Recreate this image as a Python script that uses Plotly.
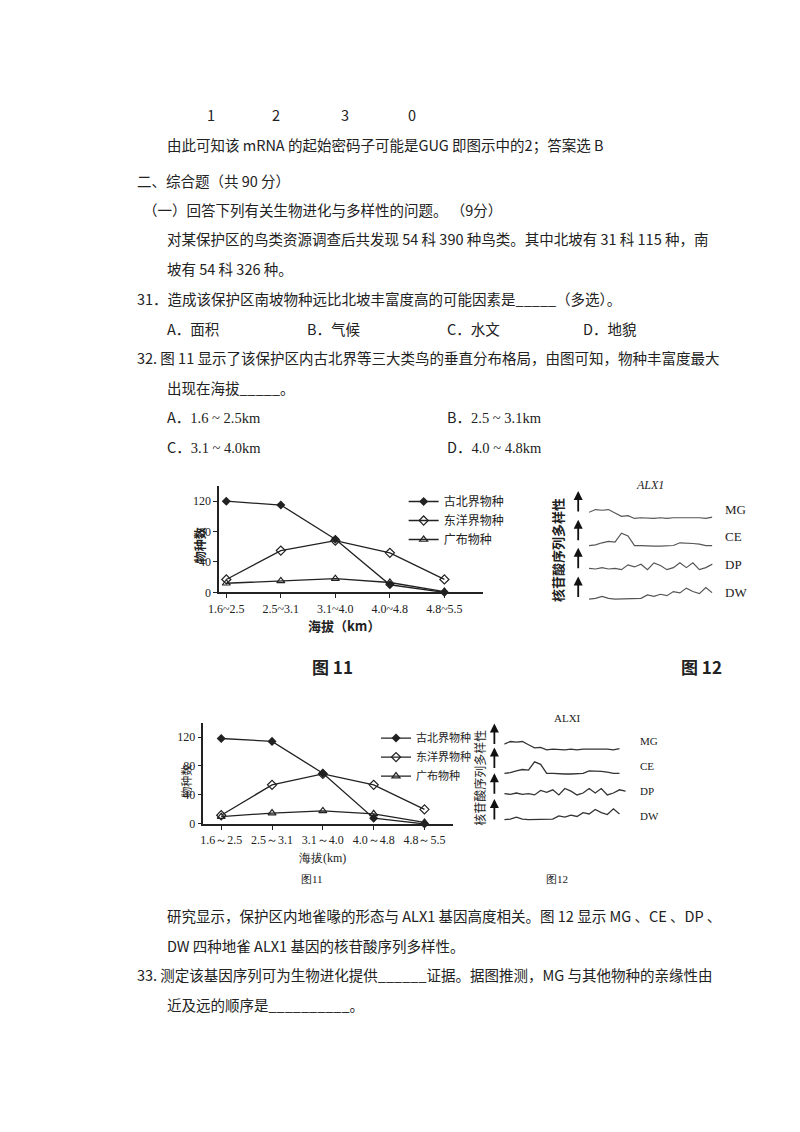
import plotly.graph_objects as go

W, H = 800, 1132

# ---- data ----
altitudes = ["1.6~2.5", "2.5~3.1", "3.1~4.0", "4.0~4.8", "4.8~5.5"]
altitudes_b = ["1.6～2.5", "2.5～3.1", "3.1～4.0", "4.0～4.8", "4.8～5.5"]
series_names = ["古北界物种", "东洋界物种", "广布物种"]
palearctic = [120, 115, 70, 10, 0]
oriental = [17, 55, 68, 52, 17]
widespread = [12, 15, 18, 13, 1]
palearctic_b = [118, 114, 70, 8, 0]
oriental_b = [12, 54, 69, 54, 20]
widespread_b = [10, 15, 18, 14, 2]
y_ticks = [0, 40, 80, 120]

species12 = ["MG", "CE", "DP", "DW"]
mg = [0.6, 0.8, 0.75, 0.8, 0.55, 0.3, 0.35, 0.15, 0.2, 0.15, 0.15, 0.2, 0.15, 0.2, 0.2, 0.25, 0.2, 0.2, 0.15, 0.25]
ce = [0.1, 0.15, 0.3, 0.4, 0.35, 1.0, 0.8, 0.1, 0.1, 0.05, 0.05, 0.05, 0.1, 0.1, 0.3, 0.3, 0.25, 0.2, 0.1, 0.1]
dp = [0.3, 0.25, 0.35, 0.25, 0.3, 0.2, 0.55, 0.4, 0.6, 0.2, 0.7, 0.5, 0.2, 0.35, 0.7, 0.35, 0.7, 0.2, 0.35, 0.6, 0.5, 0.3]
dw = [0.05, 0.1, 0.25, 0.1, 0.05, 0.05, 0.1, 0.05, 0.1, 0.35, 0.25, 0.4, 0.3, 0.6, 0.5, 0.85, 0.6, 0.45, 0.9, 0.5]
seqs = [mg, ce, dp, dw]


def px(x):
    return x / W


def py(y):
    return 1 - y / H


BODY = "Noto Sans CJK SC"
SERIF = "Liberation Serif"
INK = "#222"

fig = go.Figure()

markers = [dict(symbol="diamond", size=7, color=INK),
           dict(symbol="diamond-open", size=7, color=INK, line=dict(width=1.2)),
           dict(symbol="triangle-up-open", size=7, color=INK, line=dict(width=1.2))]

# Figure 11 (top, scanned version) and Figure 11 (bottom, redrawn)
for k, (vals, xa, ya, leg) in enumerate([
        ([palearctic, oriental, widespread], "x", "y", "legend"),
        ([palearctic_b, oriental_b, widespread_b], "x2", "y2", "legend2")]):
    for name, v, m in zip(series_names, vals, markers):
        fig.add_trace(go.Scatter(
            x=list(range(len(altitudes))), y=v, name=name, mode="lines+markers",
            marker=m, line=dict(color=INK, width=1.3), xaxis=xa, yaxis=ya,
            legend=leg, cliponaxis=False))

# Figure 12 sequence diversity traces
amp_top, amp_bot = 15, 14
base_top = [92, 63, 35, 5]
for name, s, b in zip(species12, seqs, base_top):
    fig.add_trace(go.Scatter(x=list(range(len(s))), y=[b + amp_top * v for v in s],
                             mode="lines", line=dict(color="#555", width=1.2),
                             xaxis="x3", yaxis="y3", showlegend=False))
base_bot = [80, 55, 30, 5]
for name, s, b in zip(species12, seqs, base_bot):
    fig.add_trace(go.Scatter(x=list(range(len(s))), y=[b + amp_bot * v for v in s],
                             mode="lines", line=dict(color="#333", width=1.3),
                             xaxis="x4", yaxis="y4", showlegend=False))

axis_common = dict(showgrid=False, zeroline=False, showline=True, linecolor=INK,
                   linewidth=1.5, ticks="outside", tickcolor=INK, ticklen=4,
                   tickfont=dict(family=SERIF, size=12, color=INK))
fig.update_layout(
    width=W, height=H, margin=dict(l=0, r=0, t=0, b=0),
    paper_bgcolor="white", plot_bgcolor="white",
    xaxis=dict(axis_common, domain=[px(203), px(470)], range=[-0.13, 4.7],
               tickvals=list(range(5)), ticktext=altitudes, anchor="y"),
    yaxis=dict(axis_common, domain=[py(588), py(481)], range=[0, 140],
               tickvals=y_ticks, anchor="x"),
    xaxis2=dict(axis_common, domain=[px(187), px(440)], range=[-0.35, 4.56],
                tickvals=list(range(5)), ticktext=altitudes_b, anchor="y2"),
    yaxis2=dict(axis_common, domain=[py(821), py(719)], range=[0, 140],
                tickvals=y_ticks, anchor="x2"),
    xaxis3=dict(domain=[px(578), px(703)], range=[0, 19], visible=False, anchor="y3"),
    yaxis3=dict(domain=[py(600), py(490)], range=[0, 120], visible=False, anchor="x3"),
    xaxis4=dict(domain=[px(492), px(615)], range=[0, 20], visible=False, anchor="y4"),
    yaxis4=dict(domain=[py(822), py(730)], range=[0, 100], visible=False, anchor="x4"),
    legend=dict(x=px(390), y=py(482), xanchor="left", yanchor="top",
                font=dict(family=BODY, size=12, color=INK), tracegroupgap=0,
                bgcolor="rgba(0,0,0,0)", itemwidth=30),
    legend2=dict(x=px(362), y=py(720), xanchor="left", yanchor="top",
                 font=dict(family=BODY, size=11, color=INK),
                 bgcolor="rgba(0,0,0,0)", itemwidth=30),
)

ann = []


def text(x, y, s, size=14.5, family=BODY, anchor="left", angle=0, color=INK):
    ann.append(dict(x=px(x), y=py(y), xref="paper", yref="paper", text=s,
                    showarrow=False, xanchor=anchor, yanchor="middle", textangle=angle,
                    font=dict(family=family, size=size, color=color)))


for x, s in zip([195, 261, 331, 398], ["1", "2", "3", "0"]):
    text(x, 107, s, anchor="center")
text(148, 137, "由此可知该 mRNA 的起始密码子可能是GUG 即图示中的2；答案选 B")
text(118, 174, "二、综合题（共 90 分）")
text(124, 203, "（一）回答下列有关生物进化与多样性的问题。 （9分）")
text(148, 232, "对某保护区的鸟类资源调查后共发现 54 科 390 种鸟类。其中北坡有 31 科 115 种，南")
text(148, 262, "坡有 54 科 326 种。")
text(118, 292, "31．造成该保护区南坡物种远比北坡丰富度高的可能因素是_____（多选）。")
for x, s in zip([148, 290, 432, 570], ["A．面积", "B．气候", "C．水文", "D．地貌"]):
    text(x, 322, s)
text(118, 352, "32. 图 11 显示了该保护区内古北界等三大类鸟的垂直分布格局，由图可知，物种丰富度最大")
text(148, 382, "出现在海拔_____。")
text(148, 411, "A．<span style='font-family:Liberation Serif'>1.6 ~ 2.5km</span>")
text(432, 411, "B．<span style='font-family:Liberation Serif'>2.5 ~ 3.1km</span>")
text(148, 441, "C．<span style='font-family:Liberation Serif'>3.1 ~ 4.0km</span>")
text(432, 441, "D．<span style='font-family:Liberation Serif'>4.0 ~ 4.8km</span>")

# figure 11 labels
text(183, 540, "<b>物种数</b>", size=12, anchor="center", angle=-90)
text(330, 621, "<b>海拔（km）</b>", size=13, anchor="center")
text(318, 663, "<b>图 11</b>", size=17, anchor="center")
text(170, 778, "物种数", size=11, anchor="center", angle=-90)
text(308, 855, "海拔(km)", size=12, family=SERIF, anchor="center")
text(297, 876, "图11", size=11, family=SERIF, anchor="center")

# figure 12 labels
text(640, 480, "<i>ALX1</i>", size=12, family=SERIF, anchor="center")
text(546, 545, "<b>核苷酸序列多样性</b>", size=13, anchor="center", angle=-90)
for y, s in zip([505, 532, 560, 588], species12):
    text(714, y, s, size=13, family=SERIF)
text(692, 663, "<b>图 12</b>", size=17, anchor="center")
text(556, 714, "ALXI", size=11, family=SERIF, anchor="center")
text(467, 775, "核苷酸序列多样性", size=12, anchor="center", angle=-90)
for y, s in zip([738, 763, 788, 813], species12):
    text(628, y, s, size=11, family=SERIF)
text(545, 876, "图12", size=11, family=SERIF, anchor="center")

# up arrows
for x, ys in [(567, [508, 537, 565, 594]), (482, [742, 766, 792, 818])]:
    for y in ys:
        ann.append(dict(x=px(x), y=py(y - 22), ax=0, ay=22, xref="paper", yref="paper",
                        axref="pixel", ayref="pixel", showarrow=True, arrowhead=2,
                        arrowsize=1, arrowwidth=1.8, arrowcolor="#111", text=""))

text(148, 913, "研究显示，保护区内地雀喙的形态与 ALX1 基因高度相关。图 12 显示 MG 、CE 、DP 、")
text(148, 943, "DW 四种地雀 ALX1 基因的核苷酸序列多样性。")
text(118, 973, "33. 测定该基因序列可为生物进化提供______证据。据图推测，MG 与其他物种的亲缘性由")
text(148, 1003, "近及远的顺序是__________。")

fig.update_layout(annotations=ann)
fig.write_html("out.html")
